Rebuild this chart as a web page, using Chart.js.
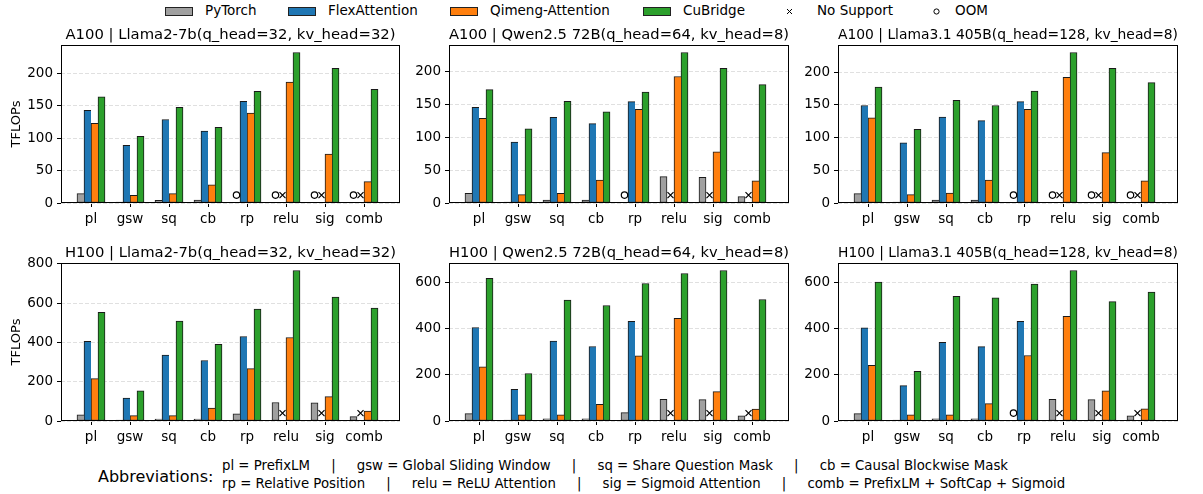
<!DOCTYPE html>
<html>
<head>
<meta charset="utf-8">
<title>Attention kernel throughput</title>
<script src="https://cdn.jsdelivr.net/npm/chart.js@4.4.1/dist/chart.umd.min.js"></script>
<style>
  body { margin: 0; background: #fff; font-family: 'DejaVu Sans', sans-serif; color: #000; }
  #fig { position: relative; width: 1203px; height: 494px; overflow: hidden; background: #fff; }
  #fig canvas { position: absolute; }
  .lg-box  { position: absolute; top: 7px; width: 26px; height: 7px; border: 1px solid #222; }
  .lg-text { position: absolute; top: 0; line-height: 21px; font-size: 13.5px; white-space: nowrap; }
  .lg-mark { position: absolute; top: 8px; }
  .abbr-head { position: absolute; left: 98px; top: 467px; font-size: 16px; line-height: 20px; }
  .abbr-line { position: absolute; left: 222px; font-size: 13.3px; line-height: 18px; white-space: pre; }
</style>
</head>
<body>
<div id="fig">
  <!-- figure legend -->
  <div class="lg-box"  style="left:165px;background:#a0a0a0"></div><div class="lg-text" style="left:205px">PyTorch</div>
  <div class="lg-box"  style="left:288px;background:#1f77b4"></div><div class="lg-text" style="left:328px">FlexAttention</div>
  <div class="lg-box"  style="left:450px;background:#ff7f0e"></div><div class="lg-text" style="left:490px">Qimeng-Attention</div>
  <div class="lg-box"  style="left:643px;background:#2ca02c"></div><div class="lg-text" style="left:683px">CuBridge</div>
  <svg class="lg-mark" style="left:786px" width="7" height="7"><path d="M1 1L6 6M6 1L1 6" stroke="#000" stroke-width="1"/></svg>
  <div class="lg-text" style="left:817px">No Support</div>
  <svg class="lg-mark" style="left:933px" width="7" height="7"><circle cx="3.5" cy="3.5" r="2.6" fill="none" stroke="#000" stroke-width="1"/></svg>
  <div class="lg-text" style="left:955px">OOM</div>

  <!-- abbreviations footer -->
  <div class="abbr-head">Abbreviations:</div>
  <div class="abbr-line" style="top:457px">pl = PrefixLM     |     gsw = Global Sliding Window     |     sq = Share Question Mask     |     cb = Causal Blockwise Mask</div>
  <div class="abbr-line" style="top:475px">rp = Relative Position     |     relu = ReLU Attention     |     sig = Sigmoid Attention     |     comb = PrefixLM + SoftCap + Sigmoid</div>
</div>

<script>
'use strict';

/* ── Data ───────────────────────────────────────────────────────── */
const categories   = ['pl', 'gsw', 'sq', 'cb', 'rp', 'relu', 'sig', 'comb'];
const seriesNames  = ['PyTorch', 'FlexAttention', 'Qimeng-Attention', 'CuBridge'];
const seriesColors = ['#a0a0a0', '#1f77b4', '#ff7f0e', '#2ca02c'];

const a100Ticks      = [0, 50, 100, 150, 200];
const h100LlamaTicks = [0, 200, 400, 600, 800];
const h100Ticks      = [0, 200, 400, 600];

// 'OOM' -> out of memory (circle), 'NS' -> no support (cross)
const a100Llama2Torch  = [14.5, 1.5, 4, 4.5, 'OOM', 'OOM', 'OOM', 'OOM'];
const a100Llama2Flex   = [143, 89, 129, 111, 157, 'NS', 'NS', 'NS'];
const a100Llama2Qimeng = [123, 12, 14.5, 28, 139, 187, 75.5, 33];
const a100Llama2Cub    = [164, 103, 148, 117, 172.5, 232.5, 208, 175.5];

const a100QwenTorch  = [14.8, 1.5, 4.6, 4.6, 'OOM', 40.3, 39.3, 9.7];
const a100QwenFlex   = [146, 93, 130.5, 121, 154.5, 'NS', 'NS', 'NS'];
const a100QwenQimeng = [129, 12.8, 14.8, 35, 143, 193, 78, 34];
const a100QwenCub    = [173, 113, 155, 139, 169, 229.5, 205.5, 180.5];

const a100Llama3Torch  = [14.3, 1.5, 4.6, 4.6, 'OOM', 'OOM', 'OOM', 'OOM'];
const a100Llama3Flex   = [149, 92, 131.5, 126, 155, 'NS', 'NS', 'NS'];
const a100Llama3Qimeng = [130, 12.8, 15.3, 35, 143, 192, 77, 34];
const a100Llama3Cub    = [177, 112.5, 157, 149, 171, 230, 206, 184];

const h100Llama2Torch  = [32, 5, 10, 10, 37, 94, 92, 22];
const h100Llama2Flex   = [405, 117, 335, 308, 430, 'NS', 'NS', 'NS'];
const h100Llama2Qimeng = [216, 27, 27, 66, 267, 425, 124, 51];
const h100Llama2Cub    = [553, 153, 509, 390, 570, 766, 631, 575];

const h100QwenTorch  = [32, 4, 9, 9, 36, 94, 92, 22];
const h100QwenFlex   = [404, 137, 345, 322, 430, 'NS', 'NS', 'NS'];
const h100QwenQimeng = [234, 27, 27, 72, 281, 444, 127, 52];
const h100QwenCub    = [616, 205, 522, 499, 594, 637, 650, 525];

const h100Llama3Torch  = [32, 4, 9, 9, 'OOM', 94, 92, 22];
const h100Llama3Flex   = [402, 153, 340, 321, 431, 'NS', 'NS', 'NS'];
const h100Llama3Qimeng = [240, 27, 27, 75, 283, 452, 130, 53];
const h100Llama3Cub    = [600, 215, 538, 532, 591, 650, 516, 557];

/* ── Layout ─────────────────────────────────────────────────────── */
const UNIT_PX  = 39;        // pixels per category step
const LEAD_PX  = 30;        // plot edge to first category
const BAR_PX   = 7;
const TITLE_H  = 19;
const XAXIS_H  = 30;
const PLOT_H   = 158;
const TITLE_PT = 14.8;

const panels = [
  { title: 'A100 | Llama2-7b(q_head=32, kv_head=32)',      series: [a100Llama2Torch, a100Llama2Flex, a100Llama2Qimeng, a100Llama2Cub], ticks: a100Ticks,      left: 0,   top: 26,  yW: 61, plotW: 339, yTitle: true },
  { title: 'A100 | Qwen2.5 72B(q_head=64, kv_head=8)',     series: [a100QwenTorch, a100QwenFlex, a100QwenQimeng, a100QwenCub],         ticks: a100Ticks,      left: 404, top: 26,  yW: 45, plotW: 340 },
  { title: 'A100 | Llama3.1 405B(q_head=128, kv_head=8)',  series: [a100Llama3Torch, a100Llama3Flex, a100Llama3Qimeng, a100Llama3Cub], ticks: a100Ticks,      left: 793, top: 26,  yW: 45, plotW: 340 },
  { title: 'H100 | Llama2-7b(q_head=32, kv_head=32)',      series: [h100Llama2Torch, h100Llama2Flex, h100Llama2Qimeng, h100Llama2Cub], ticks: h100LlamaTicks, left: 0,   top: 244, yW: 61, plotW: 339, yTitle: true },
  { title: 'H100 | Qwen2.5 72B(q_head=64, kv_head=8)',     series: [h100QwenTorch, h100QwenFlex, h100QwenQimeng, h100QwenCub],         ticks: h100Ticks,      left: 404, top: 244, yW: 45, plotW: 340 },
  { title: 'H100 | Llama3.1 405B(q_head=128, kv_head=8)',  series: [h100Llama3Torch, h100Llama3Flex, h100Llama3Qimeng, h100Llama3Cub], ticks: h100Ticks,      left: 793, top: 244, yW: 45, plotW: 340 },
];

Chart.defaults.font.family = "'DejaVu Sans', sans-serif";
Chart.defaults.color = '#000';

/* ── Plugins ────────────────────────────────────────────────────── */
// black box around the plot area (matplotlib spines)
const framePlugin = {
  id: 'frame',
  afterDraw(chart) {
    const { ctx, chartArea: a } = chart;
    const l = Math.round(a.left) + 0.5, t = Math.round(a.top) + 0.5;
    const r = Math.round(a.right) - 0.5, b = Math.round(a.bottom) - 0.5;
    ctx.save();
    ctx.strokeStyle = '#000';
    ctx.lineWidth = 1;
    ctx.strokeRect(l, t, r - l, b - t);
    ctx.restore();
  }
};

// draws o / x in the slot of a missing bar
const missingPlugin = {
  id: 'missing',
  afterDatasetsDraw(chart) {
    const { ctx } = chart;
    const yScale = chart.scales.y;
    chart.data.datasets.forEach((ds, d) => {
      const meta = chart.getDatasetMeta(d);
      ds.missing.forEach((m, i) => {
        if (!m) return;
        const x = meta.data[i].x;
        const y = yScale.getPixelForValue(ds.markerY);
        ctx.save();
        ctx.strokeStyle = '#000';
        ctx.lineWidth = 1.2;
        ctx.beginPath();
        if (m === 'OOM') {
          ctx.arc(x, y, 3.2, 0, Math.PI * 2);
        } else {
          const r = 3;
          ctx.moveTo(x - r, y - r); ctx.lineTo(x + r, y + r);
          ctx.moveTo(x + r, y - r); ctx.lineTo(x - r, y + r);
        }
        ctx.stroke();
        ctx.restore();
      });
    });
  }
};

/* ── Build one panel ────────────────────────────────────────────── */
function buildPanel(p) {
  const canvas = document.createElement('canvas');
  canvas.width  = p.yW + p.plotW + 2;
  canvas.height = TITLE_H + PLOT_H + XAXIS_H;
  canvas.style.left = p.left + 'px';
  canvas.style.top  = p.top + 'px';
  document.getElementById('fig').appendChild(canvas);

  const numbers = p.series.flat().filter(v => typeof v === 'number');
  const yMax = Math.max(...numbers) * 1.05;
  const xMin = -LEAD_PX / UNIT_PX;
  const xMax = xMin + p.plotW / UNIT_PX;
  const nSeries = p.series.length;

  const datasets = p.series.map((vals, s) => ({
    label: seriesNames[s],
    data: vals.map((v, i) => ({ x: i, y: typeof v === 'number' ? v : null })),
    missing: vals.map(v => (typeof v === 'number' ? null : v)),
    markerY: yMax * 0.05,
    backgroundColor: seriesColors[s],
    borderColor: '#1a1a1a',
    // neighbouring bars share one edge line, like matplotlib
    borderWidth: c => {
      const next = p.series[s + 1];
      const closeRight = s === nSeries - 1 || typeof next[c.dataIndex] !== 'number';
      return { top: 1, left: 1, bottom: 1, right: closeRight ? 1 : 0 };
    },
    borderSkipped: false,
    barThickness: BAR_PX,
  }));

  return new Chart(canvas, {
    type: 'bar',
    data: { datasets },
    options: {
      responsive: false,
      animation: false,
      devicePixelRatio: 1,
      layout: { padding: { top: 0, right: 2, bottom: 0, left: 0 } },
      plugins: {
        legend: { display: false },
        tooltip: { enabled: false },
        title: {
          display: true,
          text: p.title,
          fullSize: false,
          font: { size: TITLE_PT, weight: 'normal' },
          padding: { top: 0, bottom: TITLE_H - TITLE_PT * 1.2 },
          color: '#000',
        },
      },
      scales: {
        x: {
          type: 'linear',
          offset: false,
          min: xMin,
          max: xMax,
          afterBuildTicks: s => { s.ticks = categories.map((c, i) => ({ value: i })); },
          afterFit: s => { s.height = XAXIS_H; },
          ticks: {
            callback: v => categories[v],
            font: { size: 13.5 },
            padding: 4,
            maxRotation: 0,
            autoSkip: false,
          },
          grid: { display: true, offset: false, drawOnChartArea: false, tickLength: 4, tickColor: '#000', tickWidth: 1 },
          border: { display: false },
        },
        y: {
          min: 0,
          max: yMax,
          afterBuildTicks: s => { s.ticks = p.ticks.map(v => ({ value: v })); },
          afterFit: s => { s.width = p.yW; },
          ticks: { font: { size: 13.5 }, padding: 4 },
          grid: { color: '#e0e0e0', lineWidth: 1, tickLength: 4, tickColor: '#000', tickWidth: 1 },
          border: { display: false, dash: [4, 2] },
          title: {
            display: !!p.yTitle,
            text: 'TFLOPs',
            font: { size: 13 },
            padding: { top: 9, bottom: 0 },
          },
        },
      },
    },
    plugins: [framePlugin, missingPlugin],
  });
}

panels.forEach(buildPanel);
</script>
</body>
</html>
